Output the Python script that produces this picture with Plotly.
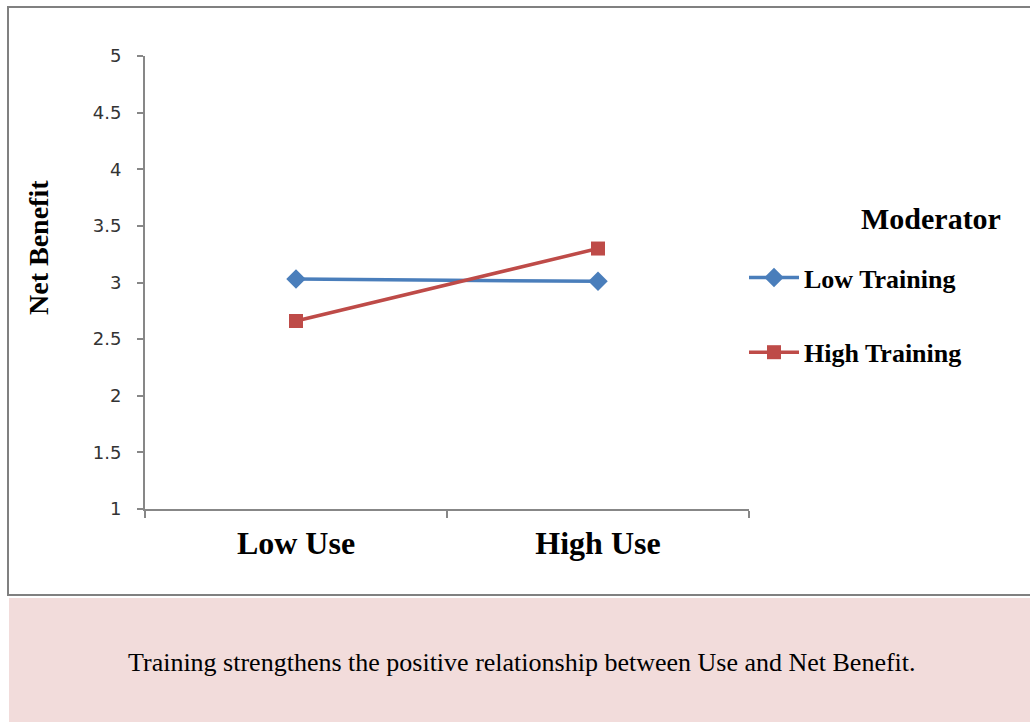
import plotly.graph_objects as go

# Interaction data: mean Net Benefit at low / high use, by training moderator
use_levels = ["Low Use", "High Use"]
low_training = [3.03, 3.01]
high_training = [2.66, 3.30]
y_ticks = [1, 1.5, 2, 2.5, 3, 3.5, 4, 4.5, 5]

W, H = 1030, 722
L, R, T, B = 145, 281, 56, 213
PW, PH = W - L - R, H - T - B


def px(xp):
    return (xp - L) / PW


def py(yp):
    return (H - B - yp) / PH


SERIF = "Liberation Serif"
BLUE = "#4a7ebb"
RED = "#be4b48"
AXIS = "#878787"

fig = go.Figure()
fig.add_trace(go.Scatter(
    x=use_levels, y=low_training, name="Low Training", mode="lines+markers",
    line=dict(color=BLUE, width=3.5),
    marker=dict(symbol="diamond", size=15, color=BLUE),
    legendgroup="low",
))
fig.add_trace(go.Scatter(
    x=use_levels, y=high_training, name="High Training", mode="lines+markers",
    line=dict(color=RED, width=3.5),
    marker=dict(symbol="square", size=14, color=RED),
    legendgroup="high",
))

fig.update_layout(
    width=W, height=H,
    margin=dict(l=L, r=R, t=T, b=B, pad=0),
    paper_bgcolor="white", plot_bgcolor="white",
    showlegend=True,
    legend=dict(
        x=px(744), xanchor="left", y=py(254), yanchor="top",
        font=dict(family=SERIF, size=26, color="black", weight="bold"),
        tracegroupgap=38, itemwidth=50, bgcolor="rgba(0,0,0,0)",
    ),
    xaxis=dict(
        type="category", categoryorder="array", categoryarray=use_levels,
        range=[-0.5, 1.5], tickson="boundaries",
        showline=True, linecolor=AXIS, linewidth=2,
        ticks="outside", ticklen=7, tickwidth=2, tickcolor=AXIS,
        showgrid=False, zeroline=False,
        tickfont=dict(family=SERIF, size=32, color="black", weight="bold"),
        ticklabelstandoff=5,
    ),
    yaxis=dict(
        range=[1, 5], tickvals=y_ticks,
        showline=True, linecolor=AXIS, linewidth=2,
        ticks="outside", ticklen=6, tickwidth=2, tickcolor=AXIS,
        showgrid=False, zeroline=False,
        tickfont=dict(family="DejaVu Sans", size=18, color="#333333"),
        ticklabelstandoff=12,
    ),
    shapes=[
        # chart frame
        dict(type="rect", xref="paper", yref="paper",
             x0=px(8), x1=px(1040), y0=py(595), y1=py(7),
             line=dict(color="#808080", width=2), fillcolor="rgba(0,0,0,0)",
             layer="below"),
        # caption panel
        dict(type="rect", xref="paper", yref="paper",
             x0=px(9), x1=px(1040), y0=py(730), y1=py(598),
             line=dict(width=0), fillcolor="#f2dcdb", layer="below"),
    ],
    annotations=[
        dict(text="Net Benefit", xref="paper", yref="paper",
             x=px(38), y=py(248), xanchor="center", yanchor="middle",
             textangle=-90, showarrow=False,
             font=dict(family=SERIF, size=28, color="black", weight="bold")),
        dict(text="Moderator", xref="paper", yref="paper",
             x=px(931), y=py(218), xanchor="center", yanchor="middle",
             showarrow=False,
             font=dict(family=SERIF, size=30, color="black", weight="bold")),
        dict(text="Training strengthens the positive relationship between Use and Net Benefit.",
             xref="paper", yref="paper",
             x=px(522), y=py(662), xanchor="center", yanchor="middle",
             showarrow=False,
             font=dict(family=SERIF, size=26, color="black")),
    ],
)

fig.write_html("out.html")
